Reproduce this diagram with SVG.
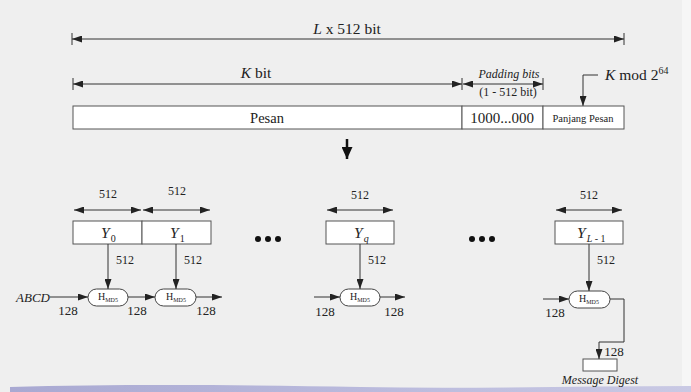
<svg xmlns="http://www.w3.org/2000/svg" width="691" height="392" viewBox="0 0 691 392">
  <defs>
    <marker id="ah" viewBox="0 0 10 7" refX="10" refY="3.5" markerWidth="10" markerHeight="7" markerUnits="userSpaceOnUse" orient="auto-start-reverse">
      <path d="M0,0 L10,3.5 L0,7 z" fill="#222"/>
    </marker>
    <marker id="ahBig" viewBox="0 0 12 11" refX="12" refY="5.5" markerWidth="13" markerHeight="11" markerUnits="userSpaceOnUse" orient="auto">
      <path d="M0,0 L12,5.5 L0,11 z" fill="#111"/>
    </marker>
    <linearGradient id="band" x1="0" y1="0" x2="1" y2="0">
      <stop offset="0" stop-color="#a9a9d2"/>
      <stop offset="0.5" stop-color="#b9b9dc"/>
      <stop offset="1" stop-color="#c9c9e4"/>
    </linearGradient>
    <style>
      .ln { stroke: #333; stroke-width: 1; fill: none; }
      .box { fill: #fff; stroke: #555; stroke-width: 1; }
      .pill { fill: #fff; stroke: #444; stroke-width: 1; }
      .it { font-style: italic; }
      .c { text-anchor: middle; }
      .n12 { font-size: 12px; }
      .n13 { font-size: 13px; }
      .n15 { font-size: 15.5px; }
      .h { font-size: 10px; }
      .hs { font-size: 6px; }
    </style>
  </defs>

  <!-- page background -->
  <rect x="0" y="0" width="691" height="392" fill="#efefef"/>
  <rect x="682" y="0" width="9" height="392" fill="#f6f6f6"/>
  <path d="M10,387 C120,384 250,385 360,387 C470,389 580,386 691,386 L691,392 L10,392 z" fill="url(#band)"/>

  <g font-family="'Liberation Serif', 'DejaVu Serif', serif" fill="#222">

  <!-- overall length dimension -->
  <g id="dim-total">
    <line class="ln" x1="72" y1="39" x2="624" y2="39" marker-start="url(#ah)" marker-end="url(#ah)"/>
    <line class="ln" x1="72" y1="33" x2="72" y2="45"/>
    <line class="ln" x1="624" y1="33" x2="624" y2="45"/>
    <text class="c n15" x="347" y="34"><tspan class="it">L</tspan> x 512 bit</text>
  </g>

  <!-- message / padding dimensions -->
  <g id="dim-kbit">
    <line class="ln" x1="73" y1="84" x2="462" y2="84" marker-start="url(#ah)" marker-end="url(#ah)"/>
    <line class="ln" x1="73" y1="78" x2="73" y2="90"/>
    <text class="c n15" x="256" y="78"><tspan class="it">K</tspan> bit</text>
  </g>
  <g id="dim-padding">
    <line class="ln" x1="463" y1="84" x2="543" y2="84" marker-start="url(#ah)" marker-end="url(#ah)"/>
    <line class="ln" x1="462" y1="78" x2="462" y2="90"/>
    <line class="ln" x1="543" y1="78" x2="543" y2="90"/>
    <text class="c n12 it" x="509" y="78">Padding bits</text>
    <text class="c n12" x="508" y="96">(1 - 512 bit)</text>
  </g>
  <g id="kmod">
    <path class="ln" d="M598,75 H583 V106" marker-end="url(#ah)"/>
    <text class="n15" x="605" y="80"><tspan class="it">K</tspan>  mod 2<tspan font-size="10" dy="-6">64</tspan></text>
  </g>

  <!-- padded message layout -->
  <g id="pesan">
    <rect class="box" x="73" y="106" width="389" height="23"/>
    <text class="c" font-size="14.5" x="267" y="123">Pesan</text>
  </g>
  <g id="padding">
    <rect class="box" x="462" y="106" width="81" height="23"/>
    <text class="c" font-size="15" x="502" y="123">1000...000</text>
  </g>
  <g id="panjang">
    <rect class="box" x="543" y="106" width="81" height="23"/>
    <text class="c" font-size="10.5" x="583" y="122">Panjang Pesan</text>
  </g>

  <g id="split-arrow">
    <line x1="347" y1="139" x2="347" y2="159" stroke="#111" stroke-width="2.5" marker-end="url(#ahBig)"/>
  </g>

  <!-- 512-bit blocks -->
  <g id="y0">
    <line class="ln" x1="74" y1="210" x2="141" y2="210" marker-start="url(#ah)" marker-end="url(#ah)"/>
    <text class="c n12" x="108" y="198">512</text>
    <rect class="box" x="73" y="221" width="69" height="23"/>
    <text class="n15" x="101" y="238"><tspan class="it">Y</tspan><tspan font-size="10" dy="4" dx="1">0</tspan></text>
  </g>
  <g id="y1">
    <line class="ln" x1="143" y1="210" x2="210" y2="210" marker-start="url(#ah)" marker-end="url(#ah)"/>
    <text class="c n12" x="177" y="195">512</text>
    <rect class="box" x="142" y="221" width="69" height="23"/>
    <text class="n15" x="170" y="238"><tspan class="it">Y</tspan><tspan font-size="10" dy="4" dx="1">1</tspan></text>
  </g>
  <g id="yq">
    <line class="ln" x1="327" y1="210" x2="393" y2="210" marker-start="url(#ah)" marker-end="url(#ah)"/>
    <text class="c n12" x="360" y="199">512</text>
    <rect class="box" x="326" y="221" width="68" height="23"/>
    <text class="n15" x="354" y="238"><tspan class="it">Y</tspan><tspan class="it" font-size="10" dy="4" dx="1">q</tspan></text>
  </g>
  <g id="yl1">
    <line class="ln" x1="556" y1="210" x2="622" y2="210" marker-start="url(#ah)" marker-end="url(#ah)"/>
    <text class="c n12" x="589" y="199">512</text>
    <rect class="box" x="555" y="221" width="68" height="23"/>
    <text class="n15" x="577" y="238"><tspan class="it">Y</tspan><tspan font-size="10" dy="4" dx="1"><tspan class="it">L</tspan> - 1</tspan></text>
  </g>

  <g id="ellipses" fill="#111">
    <circle cx="258" cy="239" r="3"/><circle cx="268" cy="239" r="3"/><circle cx="278" cy="239" r="3"/>
    <circle cx="472" cy="239" r="3"/><circle cx="482" cy="239" r="3"/><circle cx="492" cy="239" r="3"/>
  </g>

  <!-- compression stages -->
  <g id="h0">
    <rect class="pill" x="88" y="289" width="40" height="17" rx="8.5"/>
    <text class="c h" x="108" y="300">H<tspan class="hs" dy="2">MD5</tspan></text>
  </g>
  <g id="h1">
    <rect class="pill" x="155" y="289" width="41" height="17" rx="8.5"/>
    <text class="c h" x="176" y="300">H<tspan class="hs" dy="2">MD5</tspan></text>
  </g>
  <g id="hq">
    <rect class="pill" x="340" y="289" width="40" height="17" rx="8.5"/>
    <text class="c h" x="360" y="300">H<tspan class="hs" dy="2">MD5</tspan></text>
  </g>
  <g id="hl1">
    <rect class="pill" x="569" y="291" width="41" height="17" rx="8.5"/>
    <text class="c h" x="589" y="302">H<tspan class="hs" dy="2">MD5</tspan></text>
  </g>
  <g id="digest">
    <rect class="box" x="583" y="359" width="34" height="12"/>
    <text class="c n12 it" x="600" y="384">Message Digest</text>
  </g>

  <!-- connectors -->
  <g id="connectors">
    <line class="ln" x1="108" y1="244" x2="108" y2="289" marker-end="url(#ah)"/>
    <line class="ln" x1="176" y1="244" x2="176" y2="289" marker-end="url(#ah)"/>
    <line class="ln" x1="360" y1="244" x2="360" y2="289" marker-end="url(#ah)"/>
    <line class="ln" x1="589" y1="244" x2="589" y2="291" marker-end="url(#ah)"/>

    <line class="ln" x1="50" y1="297" x2="88" y2="297" marker-end="url(#ah)"/>
    <line class="ln" x1="128" y1="297" x2="155" y2="297" marker-end="url(#ah)"/>
    <line class="ln" x1="196" y1="297" x2="222" y2="297" marker-end="url(#ah)"/>
    <line class="ln" x1="314" y1="297" x2="340" y2="297" marker-end="url(#ah)"/>
    <line class="ln" x1="380" y1="297" x2="405" y2="297" marker-end="url(#ah)"/>
    <line class="ln" x1="543" y1="299" x2="569" y2="299" marker-end="url(#ah)"/>
    <path class="ln" d="M610,299 H624 V342 H599 V359" marker-end="url(#ah)"/>
  </g>

  <!-- connector labels -->
  <g id="labels">
    <text class="c n12" x="125" y="264">512</text>
    <text class="c n12" x="193" y="264">512</text>
    <text class="c n12" x="377" y="264">512</text>
    <text class="c n12" x="606" y="264">512</text>

    <text class="n13 it" x="16" y="302">ABCD</text>
    <text class="c n13" x="68" y="315">128</text>
    <text class="c n13" x="137" y="315">128</text>
    <text class="c n13" x="206" y="315">128</text>
    <text class="c n13" x="325" y="316">128</text>
    <text class="c n13" x="394" y="316">128</text>
    <text class="c n13" x="555" y="317">128</text>
    <text class="c n13" x="614" y="356">128</text>
  </g>

  </g>
</svg>
